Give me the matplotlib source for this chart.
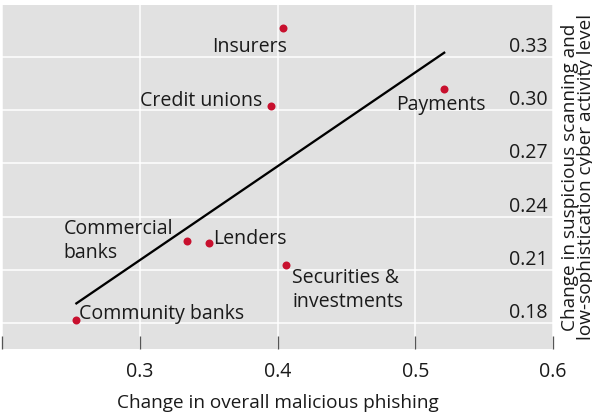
import numpy as np
import matplotlib
matplotlib.use("Agg")
import matplotlib.pyplot as plt

plt.rcParams['font.family'] = ['Open Sans', 'DejaVu Sans']

# ---- data ----
sectors = ["Insurers", "Credit unions", "Payments", "Commercial\nbanks",
           "Lenders", "Securities &\ninvestments", "Community banks"]
phishing = [0.404, 0.395, 0.521, 0.334, 0.350, 0.406, 0.254]
scanning = [0.346, 0.302, 0.312, 0.226, 0.225, 0.213, 0.182]
x_ticks = [0.2, 0.3, 0.4, 0.5, 0.6]
x_tick_labels = ["", "0.3", "0.4", "0.5", "0.6"]
y_ticks = [0.18, 0.21, 0.24, 0.27, 0.30, 0.33]
y_tick_labels = ["0.18", "0.21", "0.24", "0.27", "0.30", "0.33"]
x_title = "Change in overall malicious phishing"
y_title = "Change in suspicious scanning and\nlow-sophistication cyber activity level"

# label placement (pixel offsets from point to last-line baseline, alignment)
label_style = {
    "Insurers": (4, -23.5, 'right'),
    "Credit unions": (-8, 0, 'right'),
    "Payments": (-3, -21.5, 'center'),
    "Commercial\nbanks": (-13.5, -16.7, 'right'),
    "Lenders": (5, -1, 'left'),
    "Securities &\ninvestments": (6.5, -42.6, 'left'),
    "Community banks": (2.5, 1, 'left'),
}

DPI = 72
W, H = 592, 412
fig = plt.figure(figsize=(W / DPI, H / DPI), dpi=DPI)
L, R, T, B = 2, 553, 5, 349
ax = fig.add_axes([L / W, 1 - B / H, (R - L) / W, (B - T) / H])

bg = '#e1e1e1'
txt = '#1a1a1a'
red = '#c8102e'
fs = 19.5

ax.set_facecolor(bg)
for s in ax.spines.values():
    s.set_visible(False)

ax.set_xlim(0.2, 0.6)
ax.set_ylim(0.1655, 0.359)

ax.set_xticks(x_ticks)
ax.set_xticklabels(x_tick_labels)
ax.tick_params(axis='x', direction='in', length=13, width=1.3, color='#555555',
               labelsize=fs, labelcolor=txt, pad=13)

ax.set_yticks(y_ticks)
ax.set_yticklabels(y_tick_labels)
ax.yaxis.tick_right()
ax.tick_params(axis='y', length=0, pad=-5, labelsize=fs, labelcolor=txt)
plt.setp(ax.get_yticklabels(), ha='right', va='bottom')

ax.grid(True, which='major', axis='both', color='white', linewidth=1.5)
ax.set_axisbelow(True)

# regression line (OLS fit over the sector points)
xa = np.array(phishing)
ya = np.array(scanning)
slope, icpt = np.polyfit(xa, ya, 1)
xl = np.array([xa.min(), xa.max()])
ax.plot(xl, slope * xl + icpt, color='black', linewidth=2.3, zorder=3)

ax.scatter(phishing, scanning, s=64, color=red, zorder=4, linewidths=0)

for name, xv, yv in zip(sectors, phishing, scanning):
    dx, dy, ha = label_style[name]
    ax.annotate(name, (xv, yv), xytext=(dx, dy), textcoords='offset pixels',
                ha=ha, va='baseline', multialignment='left', fontsize=fs,
                color=txt, linespacing=1.28, zorder=5)

fig.text((L + R) / 2 / W, 1 - 408.5 / H, x_title, ha='center', va='baseline',
         fontsize=19, color=txt)
fig.text(578 / W, 1 - ((T + B) / 2) / H, y_title, ha='center', va='center',
         rotation=90, fontsize=19, color=txt, multialignment='center',
         linespacing=0.91)

fig.savefig("out.png", dpi=DPI, facecolor='white')
